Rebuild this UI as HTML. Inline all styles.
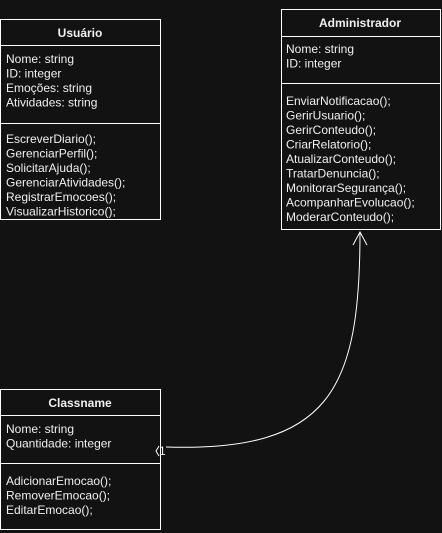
<!DOCTYPE html>
<html><head><meta charset="utf-8"><style>
html,body{margin:0;padding:0;background:#121212;}
svg{display:block;}
text{font-family:"Liberation Sans",sans-serif;font-size:12px;fill:#f0f0f0;}
.b{font-weight:bold;}
</style></head><body>
<svg width="442" height="533" viewBox="0 0 442 533">
<rect width="442" height="533" fill="#121212"/>
<g stroke="#fff" stroke-width="1" fill="#121212">
<rect x="0.5" y="19.5" width="160" height="200"/>
<line x1="0" y1="45.5" x2="161" y2="45.5"/>
<line x1="0" y1="123.5" x2="161" y2="123.5"/>
<rect x="281.5" y="9.5" width="159" height="220"/>
<line x1="281" y1="36.5" x2="441" y2="36.5"/>
<line x1="281" y1="83.5" x2="441" y2="83.5"/>
<rect x="0.5" y="389.5" width="160" height="140"/>
<line x1="0" y1="415.5" x2="161" y2="415.5"/>
<line x1="0" y1="463.5" x2="161" y2="463.5"/>
</g>
<path d="M166,447 C330,452 360,390 360,232" fill="none" stroke="#fff" stroke-width="1"/>
<path d="M353,245 L360,232 L367,245" fill="none" stroke="#fff" stroke-width="1"/>
<path d="M159,446 L156,451 L159,456" fill="none" stroke="#fff" stroke-width="1"/>
<text x="159" y="455" font-size="11">1</text>
<text class="b" x="80" y="37" text-anchor="middle">Usuário</text>
<text x="6" y="63">Nome: string</text>
<text x="6" y="77.5">ID: integer</text>
<text x="6" y="92">Emoções: string</text>
<text x="6" y="106.5">Atividades: string</text>
<text x="6" y="143">EscreverDiario();</text>
<text x="6" y="157.5">GerenciarPerfil();</text>
<text x="6" y="172">SolicitarAjuda();</text>
<text x="6" y="186.5">GerenciarAtividades();</text>
<text x="6" y="201">RegistrarEmocoes();</text>
<text x="6" y="215.5">VisualizarHistorico();</text>
<text class="b" x="360" y="27" text-anchor="middle">Administrador</text>
<text x="286" y="53">Nome: string</text>
<text x="286" y="67.5">ID: integer</text>
<text x="286" y="105">EnviarNotificacao();</text>
<text x="286" y="119.5">GerirUsuario();</text>
<text x="286" y="134">GerirConteudo();</text>
<text x="286" y="148.5">CriarRelatorio();</text>
<text x="286" y="163">AtualizarConteudo();</text>
<text x="286" y="177.5">TratarDenuncia();</text>
<text x="286" y="192">MonitorarSegurança();</text>
<text x="286" y="206.5">AcompanharEvolucao();</text>
<text x="286" y="221">ModerarConteudo();</text>
<text class="b" x="80" y="407" text-anchor="middle">Classname</text>
<text x="6" y="433">Nome: string</text>
<text x="6" y="447.5">Quantidade: integer</text>
<text x="6" y="485">AdicionarEmocao();</text>
<text x="6" y="499.5">RemoverEmocao();</text>
<text x="6" y="514">EditarEmocao();</text>
</svg>
</body></html>
